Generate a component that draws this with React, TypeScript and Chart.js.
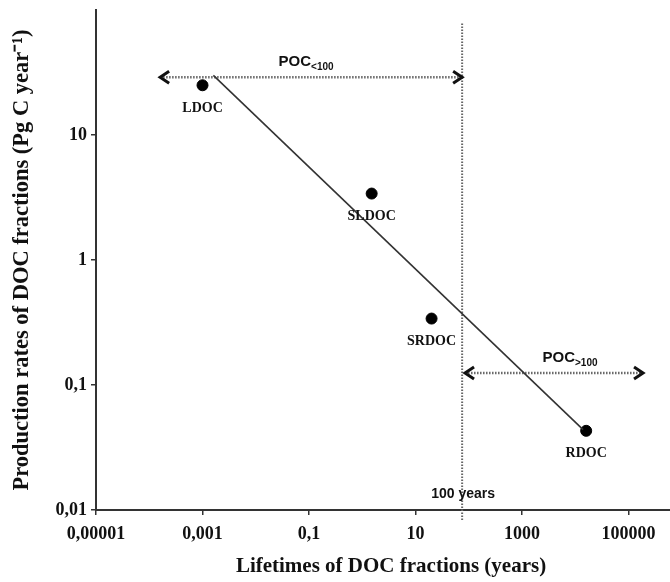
import React, { useEffect, useRef } from "react";
import { Chart, registerables } from "chart.js";

Chart.register(...registerables);

// ---- data ----
const fractionNames = ["LDOC", "SLDOC", "SRDOC", "RDOC"];
const lifetimes = [0.001, 1.5, 20, 16000];
const productionRates = [25, 3.4, 0.34, 0.043];

const fitLifetimes = [0.0016, 14000];
const fitRates = [30, 0.044];

const thresholdYears = 75;
const thresholdRates = [0.0083, 80];

const pocShortX = [0.00016, 75];
const pocShortY = 29;
const pocLongX = [85, 187000];
const pocLongY = 0.125;

const xTickValues = [1e-5, 1e-3, 0.1, 10, 1000, 1e5];
const xTickLabels = ["0,00001", "0,001", "0,1", "10", "1000", "100000"];
const yTickValues = [0.01, 0.1, 1, 10];
const yTickLabels = ["0,01", "0,1", "1", "10"];

const xTitle = "Lifetimes of DOC fractions (years)";
const yTitle = "Production rates of DOC fractions (Pg C year\u207B\u00B9)";

const X_MIN = 1e-5;
const X_MAX = 6e5;
const Y_MIN = 0.01;
const Y_MAX = 100;

const SERIF = "'Liberation Serif', 'Times New Roman', serif";
const SANS = "'Liberation Sans', Arial, sans-serif";

const annotationPlugin = {
  id: "annotations",
  afterDatasetsDraw(chart: any) {
    const ctx = chart.ctx;
    const xs = chart.scales.x;
    const ys = chart.scales.y;
    const area = chart.chartArea;
    ctx.save();

    // chevron arrowheads
    const chevron = (px: number, py: number, dir: number) => {
      ctx.beginPath();
      ctx.moveTo(px - dir * 9, py - 6);
      ctx.lineTo(px, py);
      ctx.lineTo(px - dir * 9, py + 6);
      ctx.strokeStyle = "#111";
      ctx.lineWidth = 3;
      ctx.lineJoin = "miter";
      ctx.stroke();
    };
    const arrows = [
      { xv: pocShortX, yv: pocShortY, sub: "<100", dx: -5 },
      { xv: pocLongX, yv: pocLongY, sub: ">100", dx: 16 },
    ];
    arrows.forEach((a) => {
      const x0 = xs.getPixelForValue(a.xv[0]);
      const x1 = xs.getPixelForValue(a.xv[1]);
      const y = ys.getPixelForValue(a.yv);
      chevron(x0, y, -1);
      chevron(x1, y, 1);
      ctx.fillStyle = "#111";
      ctx.textBaseline = "alphabetic";
      ctx.font = `bold 15px ${SANS}`;
      const w1 = ctx.measureText("POC").width;
      ctx.font = `bold 10px ${SANS}`;
      const w2 = ctx.measureText(a.sub).width;
      const cx = (x0 + x1) / 2 + a.dx;
      const left = cx - (w1 + w2) / 2;
      ctx.textAlign = "left";
      ctx.font = `bold 15px ${SANS}`;
      ctx.fillText("POC", left, y - 11);
      ctx.font = `bold 10px ${SANS}`;
      ctx.fillText(a.sub, left + w1, y - 7);
    });

    // point labels
    ctx.font = `bold 14px ${SERIF}`;
    ctx.textAlign = "center";
    ctx.textBaseline = "middle";
    ctx.fillStyle = "#111";
    fractionNames.forEach((n, i) => {
      const px = xs.getPixelForValue(lifetimes[i]);
      const py = ys.getPixelForValue(productionRates[i]);
      ctx.fillText(n, px, py + 23);
    });

    // threshold label
    ctx.font = `bold 14px ${SANS}`;
    ctx.fillText(
      "100 years",
      xs.getPixelForValue(thresholdYears) + 1,
      ys.bottom - 16
    );

    // x axis title
    ctx.font = `bold 21px ${SERIF}`;
    ctx.fillText(xTitle, (area.left + area.right) / 2 + 8, area.bottom + 57);
    ctx.restore();
  },
};

export default function App() {
  const ref = useRef<HTMLCanvasElement>(null);
  useEffect(() => {
    if (!ref.current) return;
    const chart = new Chart(ref.current, {
      type: "scatter",
      data: {
        datasets: [
          {
            label: "fit",
            data: fitLifetimes.map((x, i) => ({ x, y: fitRates[i] })),
            showLine: true,
            borderColor: "#333",
            borderWidth: 1.6,
            pointRadius: 0,
          },
          {
            label: "threshold",
            data: thresholdRates.map((y) => ({ x: thresholdYears, y })),
            showLine: true,
            borderColor: "#666",
            borderWidth: 2,
            borderDash: [1.5, 1.5],
            pointRadius: 0,
            clip: false as any,
          },
          {
            label: "POC<100",
            data: pocShortX.map((x) => ({ x, y: pocShortY })),
            showLine: true,
            borderColor: "#666",
            borderWidth: 2.5,
            borderDash: [1.5, 1.5],
            pointRadius: 0,
          },
          {
            label: "POC>100",
            data: pocLongX.map((x) => ({ x, y: pocLongY })),
            showLine: true,
            borderColor: "#666",
            borderWidth: 2.5,
            borderDash: [1.5, 1.5],
            pointRadius: 0,
          },
          {
            label: "DOC fractions",
            data: lifetimes.map((x, i) => ({ x, y: productionRates[i] })),
            pointRadius: 5.5,
            pointBackgroundColor: "#000",
            pointBorderColor: "#000",
            showLine: false,
          },
        ],
      },
      options: {
        responsive: false,
        animation: false,
        layout: { autoPadding: false, padding: { top: 10, right: 0, left: 0, bottom: 0 } },
        plugins: {
          legend: { display: false },
          tooltip: { enabled: false },
        },
        scales: {
          x: {
            type: "logarithmic",
            min: X_MIN,
            max: X_MAX,
            afterBuildTicks: (s: any) => {
              s.ticks = xTickValues.map((v) => ({ value: v }));
            },
            afterFit: (s: any) => {
              s.height = 72;
              s.paddingRight = 0;
              s.paddingLeft = 0;
            },
            ticks: {
              autoSkip: false,
              maxRotation: 0,
              padding: 9,
              color: "#111",
              font: { family: SERIF, size: 18, weight: "bold" },
              callback: (v: any) => {
                const i = xTickValues.findIndex(
                  (t) => Math.abs(Math.log10(t) - Math.log10(Number(v))) < 1e-6
                );
                return i >= 0 ? xTickLabels[i] : "";
              },
            },
            grid: {
              display: true,
              drawOnChartArea: false,
              tickLength: 5,
              color: "#333",
              lineWidth: 1.5,
            },
            border: { color: "#333", width: 2 },
            title: { display: false },
          },
          y: {
            type: "logarithmic",
            min: Y_MIN,
            max: Y_MAX,
            afterBuildTicks: (s: any) => {
              s.ticks = yTickValues.map((v) => ({ value: v }));
            },
            afterFit: (s: any) => {
              s.width = 96;
              s.paddingTop = 0;
              s.paddingBottom = 0;
            },
            ticks: {
              autoSkip: false,
              padding: 4,
              color: "#111",
              font: { family: SERIF, size: 18, weight: "bold" },
              callback: (v: any) => {
                const i = yTickValues.findIndex(
                  (t) => Math.abs(Math.log10(t) - Math.log10(Number(v))) < 1e-6
                );
                return i >= 0 ? yTickLabels[i] : "";
              },
            },
            grid: {
              display: true,
              drawOnChartArea: false,
              tickLength: 5,
              color: "#333",
              lineWidth: 1.5,
            },
            border: { color: "#333", width: 2 },
            title: {
              display: true,
              text: yTitle,
              color: "#111",
              font: { family: SERIF, size: 22.5, weight: "bold" },
              padding: { top: 9, bottom: 0 },
            },
          },
        },
      } as any,
      plugins: [annotationPlugin],
    });
    return () => chart.destroy();
  }, []);

  return (
    <div style={{ position: "absolute", left: 0, top: 0, width: 670, height: 582, background: "#fff" }}>
      <canvas ref={ref} width={670} height={582} style={{ display: "block" }} />
    </div>
  );
}
